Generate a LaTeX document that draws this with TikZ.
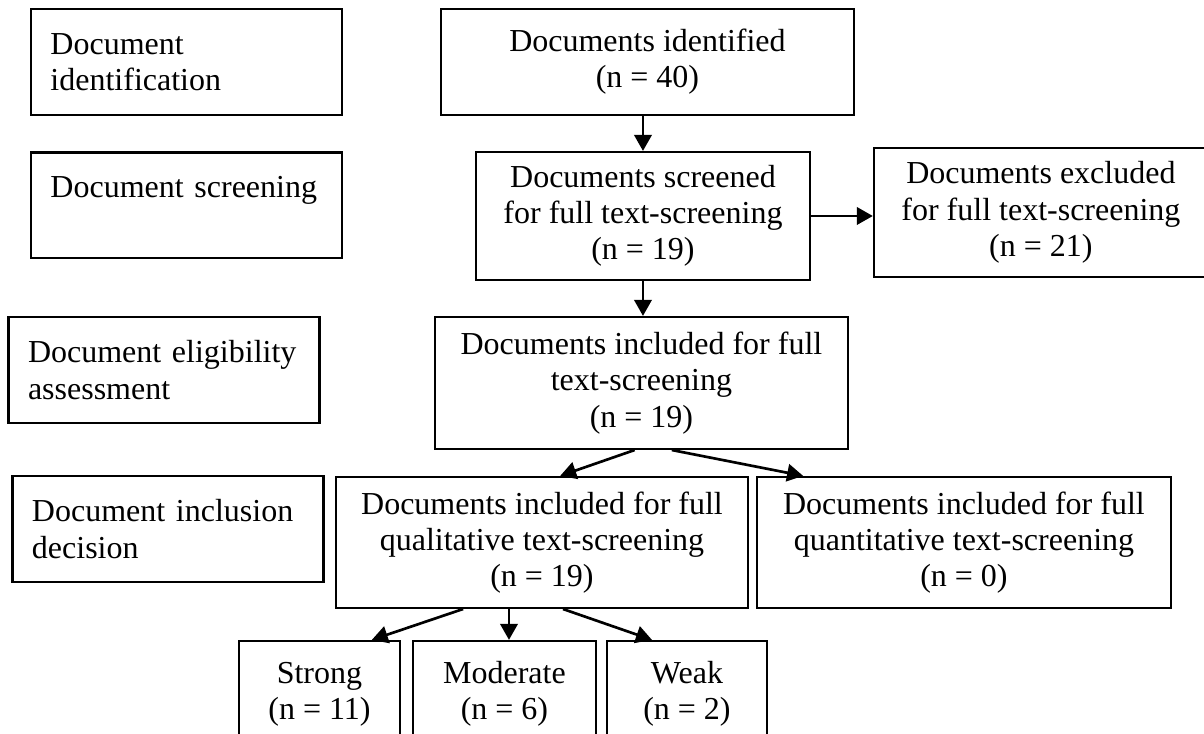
\documentclass[tikz,border=0pt]{standalone}
\usepackage{fontspec}
\setmainfont{Liberation Serif}
\usetikzlibrary{calc,arrows.meta}

\begin{document}
\begin{tikzpicture}[
  stage/.style={draw,line width=0.8pt,align=left,text width=102pt,inner xsep=7pt,minimum width=4.1cm,minimum height=1.397cm,font=\fontsize{12}{13.6}\selectfont},
  box/.style={draw,line width=0.8pt,align=center,inner sep=0pt,font=\fontsize{12}{13.6}\selectfont},
  arr/.style={line width=1pt,-{Triangle[length=6pt,width=6.5pt]}}]

\useasboundingbox (0,0) rectangle (15.87,-9.674);

% stages, left column
\node (ident) at (2.458,-0.817)[stage]{Document\\identification};
\node (screen) at (2.458,-2.708)[stage]{Document screening\\\mbox{}};
\node (elig) at (2.162,-4.877)[stage]{Document eligibility\\assessment};
\node (decis) at (2.214,-6.972)[stage]{Document inclusion\\decision};

% flow
\node (found) at (8.534,-0.817)[box,minimum width=5.443cm,minimum height=1.397cm]{Documents identified\\(n = 40)};
\node (screened) at (8.475,-2.847)[box,minimum width=4.402cm,minimum height=1.687cm]{Documents screened\\for full text-screening\\(n = 19)};
\node (excluded) at (13.72,-2.801)[box,minimum width=4.402cm,minimum height=1.7cm]{Documents excluded\\for full text-screening\\(n = 21)};
\node (included) at (8.455,-5.048)[box,minimum width=5.443cm,minimum height=1.74cm]{Documents included for full\\text-screening\\(n = 19)};
\node (qual) at (7.144,-7.15)[box,minimum width=5.43cm,minimum height=1.727cm]{Documents included for full\\qualitative text-screening\\(n = 19)};
\node (quant) at (12.706,-7.15)[box,minimum width=5.457cm,minimum height=1.727cm]{Documents included for full\\quantitative text-screening\\(n = 0)};

% quality
\node (strong) at (4.211,-9.147)[box,minimum width=2.122cm,minimum height=1.397cm]{Strong\\(n = 11)};
\node (moderate) at (6.649,-9.147)[box,minimum width=2.412cm,minimum height=1.397cm]{Moderate\\(n = 6)};
\node (weak) at (9.055,-9.147)[box,minimum width=2.109cm,minimum height=1.397cm]{Weak\\(n = 2)};

\draw[arr] (screened.north |- found.south) -- (screened.north);
\draw[arr] (screened.east) -- (screened.east -| excluded.west);
\draw[arr] (screened.south) -- (screened.south |- included.north);
\draw[arr] ([xshift=-0.09cm]included.south) -- ([xshift=0.24cm]qual.north);
\draw[arr] ([xshift=0.4cm]included.south) -- ([xshift=-2.12cm]quant.north);
\draw[arr] ([xshift=-1.04cm]qual.south) -- ([xshift=0.69cm]strong.north);
\draw[arr] ([xshift=-0.435cm]qual.south) -- ([xshift=0.06cm]moderate.north);
\draw[arr] ([xshift=0.277cm]qual.south) -- ([xshift=-0.461cm]weak.north);
\end{tikzpicture}
\end{document}
